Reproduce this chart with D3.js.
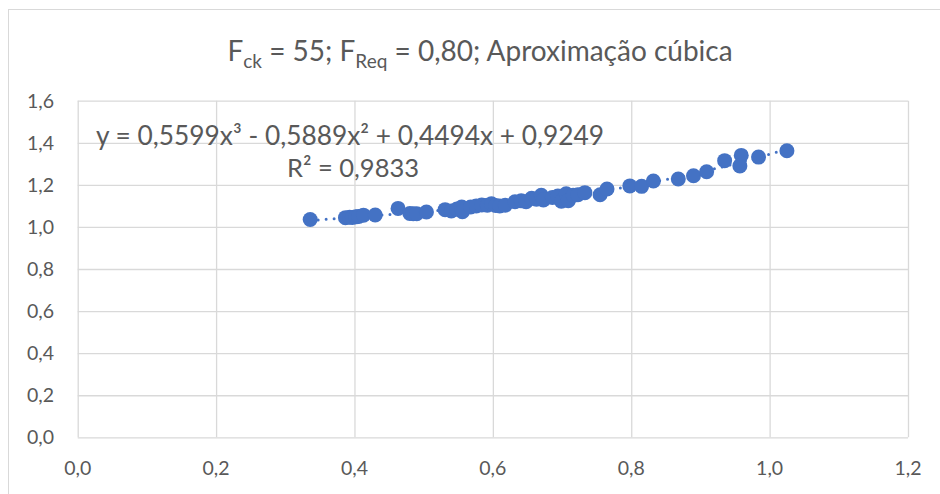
<!DOCTYPE html>
<html>
<head>
<meta charset="utf-8">
<script src="https://cdn.jsdelivr.net/npm/d3@7/dist/d3.min.js"></script>
<style>
  html, body { margin: 0; padding: 0; background: #fff; }
  svg { display: block; }
  text { font-family: Lato, "Open Sans", sans-serif; fill: #595959; }
</style>
</head>
<body>
<svg id="chart" width="940" height="494"></svg>
<script>
// ---- data ----
const xValues = [0.336, 0.387, 0.393, 0.397, 0.402, 0.406, 0.413, 0.430, 0.463, 0.480,
  0.485, 0.490, 0.504, 0.531, 0.540, 0.548, 0.555, 0.556, 0.568, 0.576,
  0.584, 0.592, 0.598, 0.604, 0.610, 0.618, 0.632, 0.641, 0.648, 0.656,
  0.663, 0.670, 0.673, 0.686, 0.694, 0.699, 0.706, 0.709, 0.716, 0.723,
  0.733, 0.755, 0.765, 0.798, 0.815, 0.832, 0.868, 0.890, 0.909, 0.935,
  0.959, 0.957, 0.984, 1.025];
const yValues = [1.035, 1.044, 1.046, 1.045, 1.048, 1.050, 1.056, 1.057, 1.088, 1.064,
  1.063, 1.063, 1.071, 1.082, 1.076, 1.085, 1.095, 1.072, 1.095, 1.100,
  1.104, 1.103, 1.110, 1.102, 1.100, 1.103, 1.120, 1.124, 1.120, 1.136,
  1.132, 1.150, 1.128, 1.140, 1.147, 1.122, 1.158, 1.125, 1.150, 1.153,
  1.163, 1.153, 1.180, 1.195, 1.193, 1.218, 1.228, 1.243, 1.262, 1.315,
  1.340, 1.290, 1.332, 1.362];
// cubic trendline coefficients: a3, a2, a1, a0
const trendCoef = [0.5599, -0.5889, 0.4494, 0.9249];
const xTicks = [0, 0.2, 0.4, 0.6, 0.8, 1.0, 1.2];
const yTicks = [0, 0.2, 0.4, 0.6, 0.8, 1.0, 1.2, 1.4, 1.6];
const equationLabel = "y = 0,5599x³ - 0,5889x² + 0,4494x + 0,9249";
const r2Label = "R² = 0,9833";

// ---- layout ----
const svg = d3.select("#chart");
const pLeft = 77.7, pRight = 908, pTop = 100.7, pBottom = 437.3;
const x = d3.scaleLinear().domain([0, 1.2]).range([pLeft, pRight]);
const y = d3.scaleLinear().domain([0, 1.6]).range([pBottom, pTop]);
const fmt = d => d3.format(".1f")(d).replace(".", ",");
const blue = "#4472C4";

// chart border (extends past the visible frame)
svg.append("rect").attr("x", 8.5).attr("y", 9.5).attr("width", 1000).attr("height", 600)
  .attr("fill", "none").attr("stroke", "#d9d9d9").attr("stroke-width", 1);

// gridlines
const gx = svg.append("g").attr("transform", `translate(0,${pBottom})`)
  .call(d3.axisBottom(x).tickValues(xTicks).tickSize(-(pBottom - pTop)).tickFormat(""));
const gy = svg.append("g").attr("transform", `translate(${pLeft},0)`)
  .call(d3.axisLeft(y).tickValues(yTicks).tickSize(-(pRight - pLeft)).tickFormat(""));
[gx, gy].forEach(g => {
  g.select(".domain").remove();
  g.selectAll(".tick line").attr("stroke", "#d9d9d9").attr("stroke-width", 1.3);
});

// tick labels
svg.append("g").selectAll("text").data(yTicks).join("text")
  .attr("x", 54).attr("y", d => y(d)).attr("dy", "0.36em")
  .attr("text-anchor", "end").attr("font-size", 19.5).text(fmt);
svg.append("g").selectAll("text").data(xTicks).join("text")
  .attr("x", d => x(d)).attr("y", 475)
  .attr("text-anchor", "middle").attr("font-size", 19.5).text(fmt);

// title
const title = svg.append("text").attr("x", 480).attr("y", 61)
  .attr("text-anchor", "middle").attr("font-size", 28);
title.append("tspan").text("F");
title.append("tspan").attr("font-size", 19).attr("dy", 7).text("ck");
title.append("tspan").attr("dy", -7).text(" = 55; F");
title.append("tspan").attr("font-size", 19).attr("dy", 7).text("Req");
title.append("tspan").attr("dy", -7).text(" = 0,80; Aproximação cúbica");

// trendline (dotted)
const xs = d3.extent(xValues);
const poly = v => ((trendCoef[0] * v + trendCoef[1]) * v + trendCoef[2]) * v + trendCoef[3];
const trendPts = d3.range(0, 101).map(i => xs[0] + (xs[1] - xs[0]) * i / 100);
svg.append("path").datum(trendPts)
  .attr("d", d3.line().x(d => x(d)).y(d => y(poly(d))))
  .attr("fill", "none").attr("stroke", blue).attr("stroke-width", 3)
  .attr("stroke-linecap", "round").attr("stroke-dasharray", "0 8");

// markers
svg.append("g").selectAll("circle").data(xValues).join("circle")
  .attr("cx", d => x(d)).attr("cy", (d, i) => y(yValues[i]))
  .attr("r", 7.5).attr("fill", blue);

// trendline label
svg.append("text").attr("x", 350).attr("y", 145).attr("text-anchor", "middle")
  .attr("font-size", 26.3).text(equationLabel);
svg.append("text").attr("x", 353).attr("y", 177).attr("text-anchor", "middle")
  .attr("font-size", 25.5).text(r2Label);
</script>
</body>
</html>
